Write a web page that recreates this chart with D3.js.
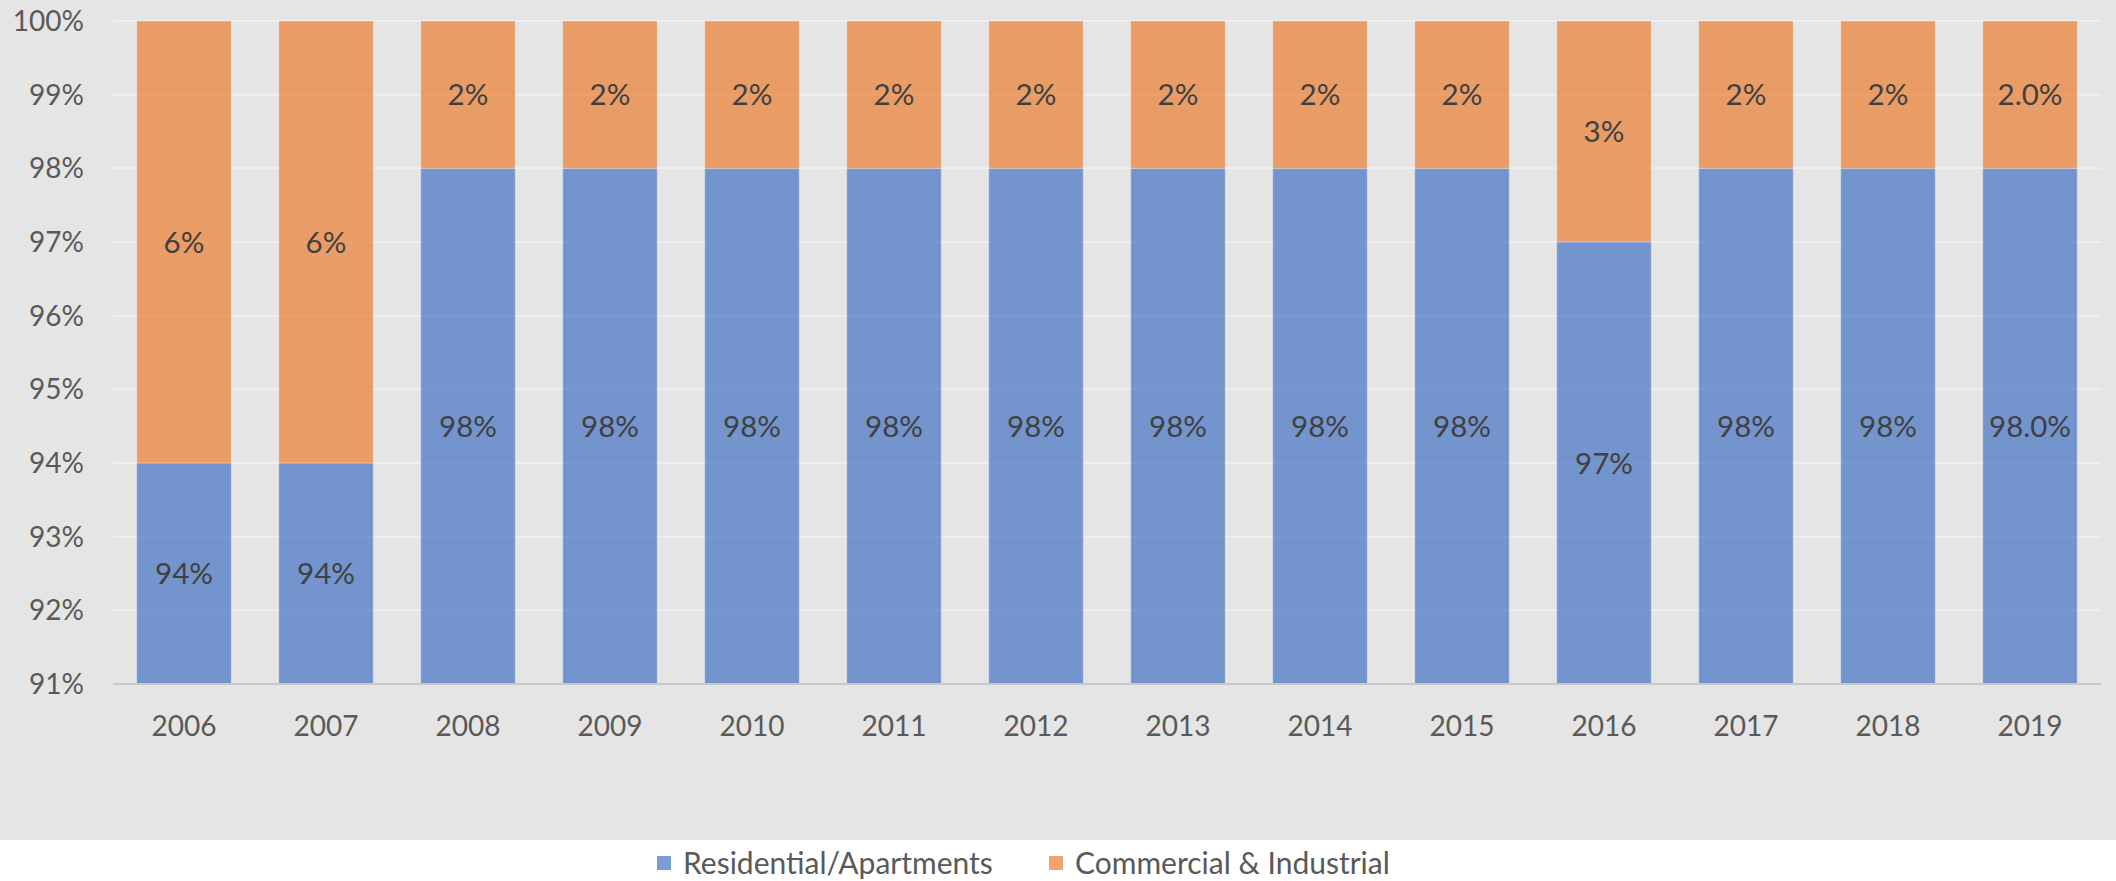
<!DOCTYPE html>
<html>
<head>
<meta charset="utf-8">
<script src="https://cdn.jsdelivr.net/npm/d3@7"></script>
<style>
  body { margin: 0; background: #ffffff; }
  svg { display: block; }
  text { font-family: Lato, "Noto Sans", sans-serif; }
</style>
</head>
<body>
<svg id="chart" width="2116" height="881"></svg>
<script>
document.addEventListener("DOMContentLoaded", function() {

    // Data
    const years = ["2006", "2007", "2008", "2009", "2010", "2011", "2012",
                   "2013", "2014", "2015", "2016", "2017", "2018", "2019"];
    const residential = [94, 94, 98, 98, 98, 98, 98, 98, 98, 98, 97, 98, 98, 98];
    const commercial = [6, 6, 2, 2, 2, 2, 2, 2, 2, 2, 3, 2, 2, 2];
    const residentialLabels = ["94%", "94%", "98%", "98%", "98%", "98%", "98%",
                               "98%", "98%", "98%", "97%", "98%", "98%", "98.0%"];
    const commercialLabels = ["6%", "6%", "2%", "2%", "2%", "2%", "2%",
                              "2%", "2%", "2%", "3%", "2%", "2%", "2.0%"];
    const yTicks = [91, 92, 93, 94, 95, 96, 97, 98, 99, 100];
    const seriesNames = ["Residential/Apartments", "Commercial & Industrial"];

    // Display settings
    const width = 2116, height = 881;
    const plot = { left: 113, right: 2101, top: 21, bottom: 684 };
    const colors = ["#4472c4", "#ed7d31"];
    const barOpacity = 0.7;
    const axisFont = 28;
    const labelFont = 29.5;
    const legendFont = 30;

    const svg = d3.select("#chart");

    // Grey chart area, white strip under it
    svg.append("rect")
        .attr("x", 0).attr("y", 0)
        .attr("width", width).attr("height", 840)
        .attr("fill", "#e5e5e5");

    ////////// Scales //////////
    const x = d3.scaleBand().domain(years)
        .range([plot.left, plot.right])
        .paddingInner(0.335).paddingOuter(0.1675);
    const y = d3.scaleLinear().domain([91, 100]).range([plot.bottom, plot.top]);

    // Gridlines
    svg.append("g")
        .selectAll("line")
        .data(yTicks.filter(t => t > 91))
        .enter().append("line")
        .attr("x1", plot.left).attr("x2", plot.right)
        .attr("y1", d => y(d)).attr("y2", d => y(d))
        .attr("stroke", "#efefef")
        .attr("stroke-width", 2);

    // Y axis labels
    svg.append("g")
        .selectAll("text")
        .data(yTicks)
        .enter().append("text")
        .attr("x", 84)
        .attr("y", d => y(d))
        .attr("dy", "0.36em")
        .attr("text-anchor", "end")
        .attr("fill", "#595959")
        .style("font-size", axisFont + "px")
        .text(d => d + "%");

    ////////// Bars //////////
    const rows = years.map((yr, i) => ({ year: yr, a: residential[i], b: commercial[i] }));
    const stacked = d3.stack().keys(["a", "b"])(rows);
    const labels = [residentialLabels, commercialLabels];

    svg.append("clipPath").attr("id", "plotClip")
        .append("rect")
        .attr("x", plot.left).attr("y", plot.top)
        .attr("width", plot.right - plot.left)
        .attr("height", plot.bottom - plot.top);

    const barG = svg.append("g").attr("clip-path", "url(#plotClip)");

    stacked.forEach((layer, s) => {
        barG.selectAll(".bar" + s)
            .data(layer)
            .enter().append("rect")
            .attr("class", "bar" + s)
            .attr("x", d => x(d.data.year))
            .attr("width", x.bandwidth())
            .attr("y", d => y(d[1]))
            .attr("height", d => y(d[0]) - y(d[1]))
            .attr("fill", colors[s])
            .attr("fill-opacity", barOpacity)
            .attr("stroke", "#ffffff")
            .attr("stroke-opacity", 0.25)
            .attr("stroke-width", 1);
    });

    // Data labels, centred in the visible part of each segment
    stacked.forEach((layer, s) => {
        svg.append("g")
            .selectAll("text")
            .data(layer)
            .enter().append("text")
            .attr("x", d => x(d.data.year) + x.bandwidth() / 2)
            .attr("y", d => y((Math.max(d[0], 91) + Math.min(d[1], 100)) / 2))
            .attr("dy", "0.36em")
            .attr("text-anchor", "middle")
            .attr("fill", "#404040")
            .style("font-size", labelFont + "px")
            .text((d, i) => labels[s][i]);
    });

    // Bottom axis line
    svg.append("line")
        .attr("x1", plot.left).attr("x2", plot.right)
        .attr("y1", y(91)).attr("y2", y(91))
        .attr("stroke", "#c8c8c8")
        .attr("stroke-width", 2);

    // X axis labels
    svg.append("g")
        .selectAll("text")
        .data(years)
        .enter().append("text")
        .attr("x", d => x(d) + x.bandwidth() / 2)
        .attr("y", 726)
        .attr("dy", "0.36em")
        .attr("text-anchor", "middle")
        .attr("fill", "#595959")
        .style("font-size", axisFont + "px")
        .text(d => d);

    ////////// Legend //////////
    const legendX = [657, 1049];
    const legend = svg.append("g");
    seriesNames.forEach((name, s) => {
        legend.append("rect")
            .attr("x", legendX[s]).attr("y", 856)
            .attr("width", 14).attr("height", 14)
            .attr("fill", colors[s])
            .attr("fill-opacity", barOpacity);
        legend.append("text")
            .attr("x", legendX[s] + 26)
            .attr("y", 863)
            .attr("dy", "0.36em")
            .attr("fill", "#595959")
            .style("font-size", legendFont + "px")
            .text(name);
    });
});
</script>
</body>
</html>
